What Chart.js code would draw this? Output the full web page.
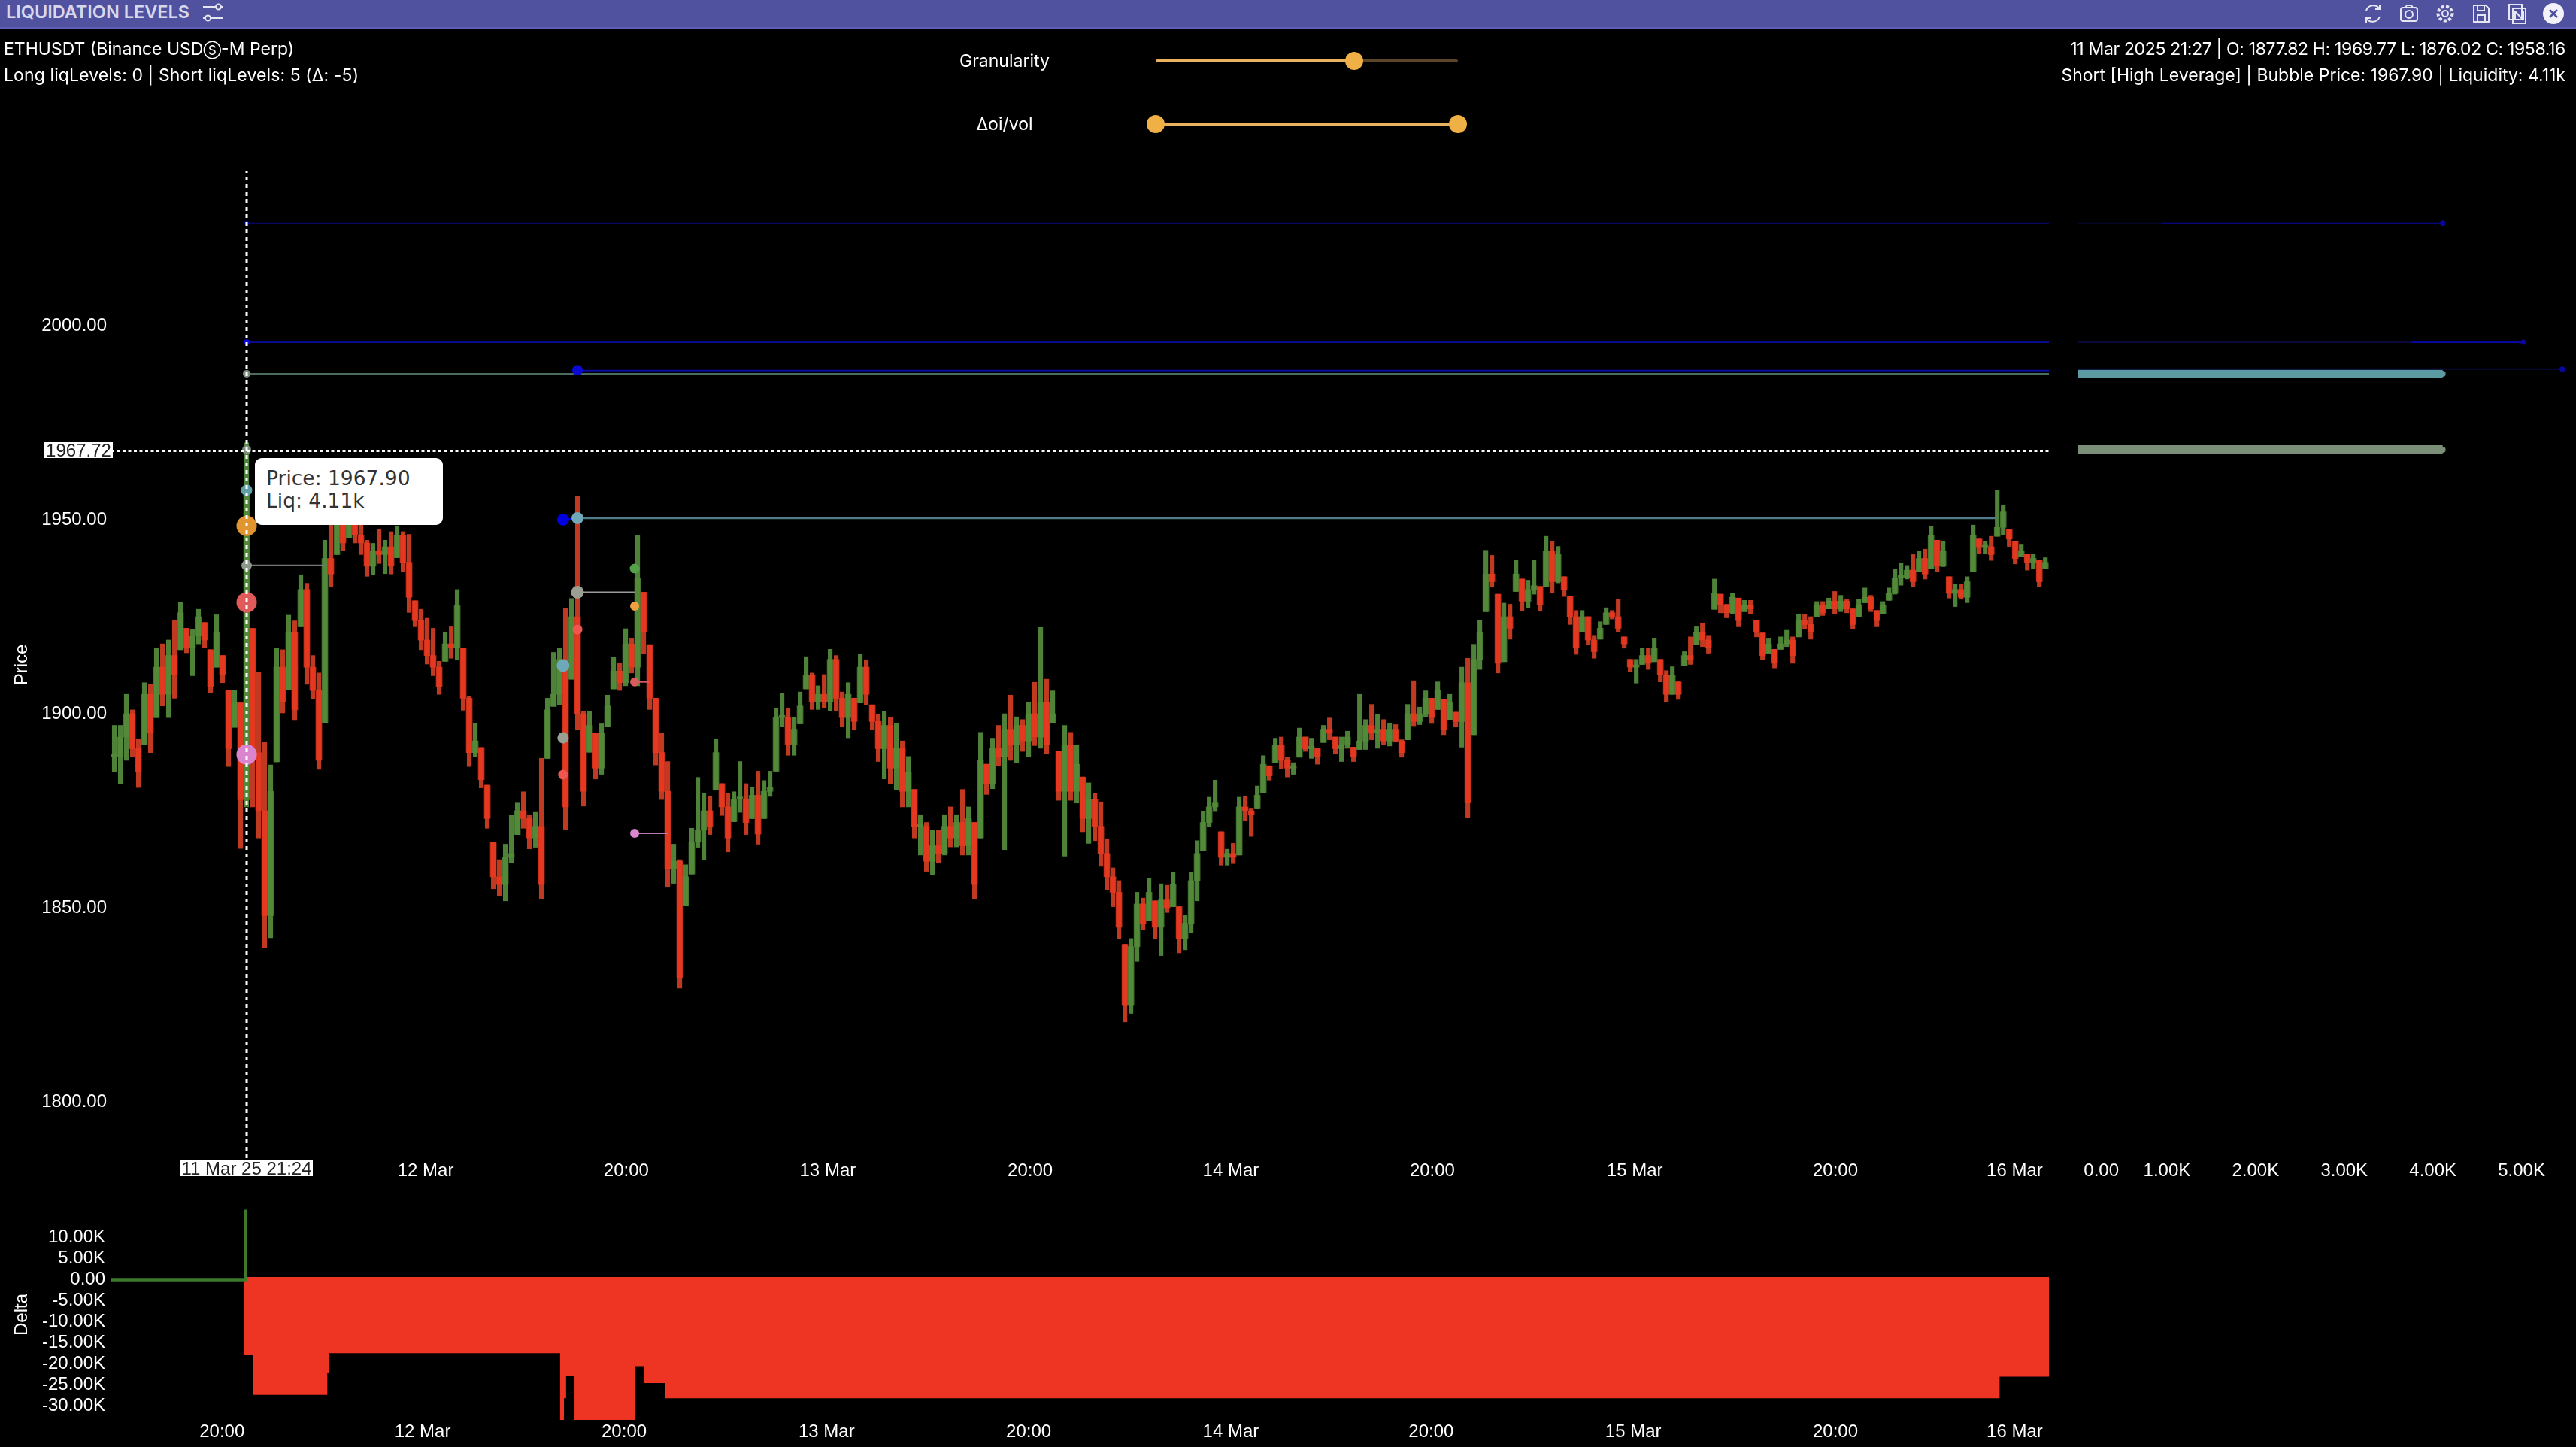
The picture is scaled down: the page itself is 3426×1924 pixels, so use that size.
<!DOCTYPE html>
<html>
<head>
<meta charset="utf-8">
<title>Liquidation Levels</title>
<script src="https://cdn.jsdelivr.net/npm/chart.js@4/dist/chart.umd.js"></script>
<style>
html, body { margin: 0; padding: 0; background: #000; width: 3426px; height: 1924px; overflow: hidden; }
canvas { position: absolute; left: 0; top: 0; }
.txt { position: absolute; color: #fff; font-family: Inter, sans-serif; font-size: 23px; line-height: 30px; white-space: nowrap; }
#bar { position: absolute; left: 0; top: 0; width: 3426px; height: 36px; background: #50529f; border-bottom: 2px solid #5c5fb5; }
#title { left: 8px; top: 1px; color: #d8d8ec; font-weight: 600; font-size: 23.5px; }
.right { right: 14px; text-align: right; }
.center { left: 1186px; width: 300px; text-align: center; }
.track { position: absolute; height: 4px; border-radius: 2px; background: #e8b25c; }
.thumb { position: absolute; width: 24px; height: 24px; border-radius: 50%; background: #efb045; }
.axisbox { position: absolute; background: #fff; color: #222; font-family: "Liberation Sans", sans-serif; font-size: 24px; line-height: 21px; text-align: center; }
#tip { position: absolute; left: 339px; top: 609px; width: 250px; height: 89px; background: #fff; border-radius: 9px; z-index: 5; }
#tip div { position: absolute; left: 15px; color: #333; font-family: "DejaVu Sans", sans-serif; font-size: 26.5px; line-height: 30px; white-space: nowrap; }
svg.ic { position: absolute; top: 3px; width: 30px; height: 30px; fill: none; stroke: #e6e6f2; stroke-width: 2; }
</style>
</head>
<body>
<canvas id="mainChart" width="3426" height="1924"></canvas>
<canvas id="depthChart" width="3426" height="1924"></canvas>
<canvas id="deltaChart" width="3426" height="1924"></canvas>

<div id="bar"></div>
<div class="txt" id="title">LIQUIDATION LEVELS</div>
<svg class="ic" style="left:268px" viewBox="0 0 30 30"><path d="M2 6h17M26 6h2M2 21h3M12 21h16"/><circle cx="22.5" cy="6" r="3.5"/><circle cx="8.5" cy="21" r="3.5"/></svg>
<svg class="ic" style="left:3141px" viewBox="0 0 30 30"><path d="M6 11a10 10 0 0 1 18-2M24 19a10 10 0 0 1-18 2M24 3v6h-6M6 27v-6h6"/></svg>
<svg class="ic" style="left:3189px" viewBox="0 0 30 30"><rect x="4" y="7" width="22" height="18" rx="3"/><circle cx="15" cy="16" r="5"/><path d="M10 7l2-3h6l2 3"/></svg>
<svg class="ic" style="left:3237px" viewBox="0 0 30 30"><circle cx="15" cy="15" r="4"/><circle cx="15" cy="15" r="9.5" stroke-dasharray="4 2.5" stroke-width="4"/></svg>
<svg class="ic" style="left:3285px" viewBox="0 0 30 30"><path d="M5 4h16l4 4v18H5z"/><path d="M10 4v7h9V4M10 26v-9h10v9"/></svg>
<svg class="ic" style="left:3333px" viewBox="0 0 30 30"><rect x="4" y="3" width="17" height="20"/><rect x="9" y="8" width="17" height="20"/><path d="M12 12l11 12M12 24V12M23 24V12"/></svg>
<svg class="ic" style="left:3381px" viewBox="0 0 30 30"><circle cx="15" cy="15" r="14" fill="#f2f2f8" stroke="none"/><path d="M10 10l10 10M20 10L10 20" stroke="#50529f" stroke-width="2.5"/></svg>

<div class="txt" style="left:5px;top:50px">ETHUSDT (Binance USD<span style="font-size:17px">Ⓢ</span>-M Perp)</div>
<div class="txt" style="left:5px;top:85px;letter-spacing:0.1px">Long liqLevels: 0 | Short liqLevels: 5 (Δ: -5)</div>
<div class="txt right" style="top:50px;letter-spacing:-0.35px">11 Mar 2025 21:27 | O: 1877.82 H: 1969.77 L: 1876.02 C: 1958.16</div>
<div class="txt right" style="top:85px">Short [High Leverage] | Bubble Price: 1967.90 | Liquidity: 4.11k</div>

<div class="txt center" style="top:66px">Granularity</div>
<div class="track" style="left:1537px;top:79px;width:402px;background:#5a4528"></div>
<div class="track" style="left:1537px;top:79px;width:264px"></div>
<div class="thumb" style="left:1789px;top:69px"></div>
<div class="txt center" style="top:150px">Δoi/vol</div>
<div class="track" style="left:1537px;top:163px;width:402px"></div>
<div class="thumb" style="left:1525px;top:153px"></div>
<div class="thumb" style="left:1927px;top:153px"></div>

<div class="axisbox" style="left:59px;top:588px;width:91px;height:21px">1967.72</div>
<div class="axisbox" style="left:240px;top:1543px;width:176px;height:21px">11 Mar 25 21:24</div>
<div id="tip"><div style="top:12px">Price: 1967.90</div><div style="top:42px">Liq: 4.11k</div></div>

<script>
// candles, one every few minutes
const candleHigh = [
  1897,1897,1905,1901,1893.5,1908,1907.5,1917,1918,1919,1924,1928.7,1922,1921.7,1926.9,1923.5,1916.5,1925.5,1915,1906,
  1906,1902.8,1969.77,1922,1910.6,1892.7,1886.8,1916.9,1916.5,1925.4,1923.9,1935.8,1933.6,1915,1910.5,1944.7,1955,1952,1955,1956,
  1953,1955,1944.7,1943.9,1947.6,1944.7,1946.9,1948.4,1946.9,1946.2,1929.1,1926.9,1924.6,1922,1913.5,1921,1922.4,1932,1916.9,1904.6,
  1897.6,1891.3,1881.6,1866.8,1862.4,1866.4,1873.8,1877,1879.9,1873.8,1874.6,1888.5,1904,1915.8,1917,1927.2,1929.7,1956,1900.7,1900.7,
  1895,1897.4,1904.8,1914.6,1913,1921.9,1919.5,1946,1931.3,1917.8,1904,1895,1887.7,1866.4,1862.4,1861.1,1870.5,1883.6,1879.5,1878.7,
  1893.4,1882,1879.5,1879.9,1887.7,1882,1881.1,1885.2,1882.8,1885.2,1901.5,1905.2,1901.5,1899,1905.6,1914.7,1910.5,1907.2,1910.1,1916.6,
  1915,1905.6,1908,1904,1915.4,1913.8,1902.3,1899.9,1900.7,1899,1897.5,1893,1889,1880.5,1874,1872,1870,1870,1874,1876,
  1874,1880.5,1876,1872,1895.2,1887,1893.7,1897,1900,1904.8,1899.2,1898.5,1903,1908.1,1922.2,1908.9,1905.9,1890.3,1897,1895.2,
  1891.8,1883.7,1882.2,1879.6,1877.3,1867.7,1860.3,1857,1840.6,1842.1,1854,1852.5,1857.7,1851.8,1856.2,1855.8,1859.2,1850.3,1848,1859.2,
  1867.3,1874.8,1878.5,1882.9,1869.6,1865.1,1866.6,1878.5,1878.8,1875.5,1881.4,1889.2,1886.6,1893.7,1894,1888.8,1887.4,1896.3,1894,1893.7,
  1891,1897,1898.9,1894,1894,1895.5,1891.4,1905,1898.5,1902.4,1899.8,1898.5,1897.5,1897.2,1893.3,1902.4,1908.5,1901.7,1905.9,1904,
  1908.2,1903.7,1905,1900.4,1912,1914.3,1917.9,1924,1942.1,1940.8,1930.8,1928.5,1928.2,1939.5,1934.7,1934.4,1939.5,1932.8,1945.7,1944.4,
  1943.1,1935.3,1930.2,1926.6,1926.6,1925,1920.2,1923.7,1927.3,1926.6,1929.5,1919.8,1914,1914,1916.9,1916.9,1919.5,1914,1911.1,1912.1,
  1908.2,1916,1919.8,1922.4,1923.4,1920.2,1934.7,1930.8,1928.2,1931.1,1929.8,1929.2,1929.2,1924,1920.8,1919.5,1916.6,1919.8,1921.5,1919.8,
  1925.7,1925.7,1925,1928.9,1928.9,1929.8,1931.5,1930.5,1929.5,1927,1929.5,1932.4,1930.5,1926.6,1928.9,1932.4,1937.3,1938.9,1938.2,1941.2,
  1941.8,1942.4,1948.3,1944.7,1944.4,1935.3,1933.4,1933.4,1935.3,1948.6,1945,1944.4,1945.7,1957.6,1953.7,1947.6,1944.4,1943.7,1941.2,1941.2,
  1939.5,1940.2
];
const candleLow = [
  1885,1882,1888,1889,1881,1892,1890,1899,1902,1899,1904,1916.5,1915.7,1909.8,1918,1917,1905.4,1912,1908,1886.4,
  1896.5,1865.3,1876.02,1876,1868,1839.6,1842.3,1887.6,1900.2,1906.1,1898.3,1922.4,1907.6,1903.9,1885.7,1897.6,1932.8,1941,1942,1945.4,
  1944,1941,1935.4,1935.8,1938.7,1936.1,1936,1940.2,1936.5,1926.1,1922.4,1916.5,1912.8,1909.8,1905,1913.5,1914.3,1914,1900.9,1886.4,
  1889,1880.9,1870.5,1854.9,1853,1851.8,1861.6,1868.9,1870.5,1865.2,1865.6,1852.2,1888.5,1901.9,1902.3,1870.1,1908.9,1895.8,1876.2,1890.1,
  1883.2,1884.4,1896.6,1906.4,1906,1907.2,1910.5,1907.2,1915.4,1901.1,1886.8,1877.9,1855.4,1856.3,1829.3,1850.5,1858.7,1865.6,1862.4,1868.9,
  1880.3,1873.8,1864.4,1872.2,1874.6,1868.9,1873,1866.4,1873,1878.7,1885.2,1896.6,1889.3,1889.3,1897.4,1906.4,1901.1,1901.1,1901.5,1900.7,
  1900.7,1896.6,1893.8,1895.8,1902.8,1902.3,1895.8,1887.7,1883.2,1882,1880.5,1876,1876,1868,1863.6,1859.4,1858.5,1861.5,1863.6,1865.7,
  1865.7,1863.6,1863.6,1852.2,1868,1879.2,1880.7,1886.6,1865,1888,1887.4,1890.3,1888.9,1891.8,1891.1,1889.6,1897.7,1877.7,1863.3,1877.7,
  1877,1869.6,1866.6,1867.3,1860.7,1854.7,1850.3,1842.1,1820.6,1822.8,1836.2,1844.3,1846.6,1842.1,1837.7,1848.8,1850.3,1838.4,1839.2,1843.6,
  1851.8,1864.7,1871,1874.8,1861,1861,1861.4,1863.6,1872.5,1868.4,1875.5,1879.6,1882.9,1887.4,1885.9,1883.7,1884.4,1888.8,1890.3,1888.5,
  1887,1892.6,1893.3,1889.6,1887.7,1891.1,1887.7,1890.8,1890.8,1893.3,1891.1,1892,1891.7,1892.7,1888.8,1893.3,1896.9,1897.2,1899.1,1897.5,
  1901.1,1894.6,1898.5,1896.6,1891.4,1873.3,1894.6,1911.4,1926.3,1932.8,1910.5,1913.4,1919.2,1931.5,1926.6,1927.3,1930.8,1926.6,1932.8,1931.1,
  1933.7,1930.2,1923,1915.3,1921.1,1917.9,1914.3,1919.2,1923,1924.4,1921.1,1916.9,1910.8,1907.9,1912.7,1911.4,1913.4,1908.2,1903,1905,
  1903.7,1912.4,1912.7,1917.9,1917.3,1915.6,1926.9,1926,1924.7,1925.7,1922.4,1926.3,1925.7,1919.8,1914,1915.6,1911.8,1916.6,1917.3,1913,
  1919.8,1921.8,1919.2,1925,1925.3,1927,1925.7,1926.3,1926,1921.8,1925,1928.6,1926.3,1922.4,1925.7,1929.2,1930.8,1933.1,1934.7,1932.8,
  1936.6,1934.7,1937.3,1936.6,1937.9,1929.8,1927.6,1929.5,1928.6,1936.6,1941.2,1941.2,1939.5,1945.7,1946,1943.1,1938.6,1940.5,1937,1937.3,
  1932.8,1937.3
];
const candleClose = [
  1889,1894,1900,1891,1885,1905,1895,1912,1905,1915,1910,1926,1917,1920,1925,1919,1907,1921,1910,1891,
  1903,1877.82,1958.16,1890,1875,1848,1880,1912,1903,1921,1901,1932,1912,1906,1888,1940,1936,1950,1944,1952,
  1946,1944,1938,1942,1941,1943,1938,1946,1939,1930,1924,1919,1915,1912,1907,1918,1917,1928,1904,1890,
  1893,1883,1873,1858,1856,1863,1864,1875,1873,1868,1871,1856,1901,1905,1914,1876,1925,1900,1880,1897,
  1886,1895,1902,1911,1908,1918,1912,1935,1921,1904,1890,1880,1860,1862,1832,1858,1867,1870,1875,1871,
  1890,1876,1868,1878,1878,1872,1879,1869,1880,1881,1899,1899,1892,1896,1902,1910,1903,1905,1903,1914,
  1904,1899,1905,1898,1912,1905,1898,1891,1897,1886,1891,1880,1885,1871,1871,1862,1866,1864,1871,1868,
  1872,1866,1873,1856,1888,1882,1891,1889,1896,1892,1897,1893,1900,1894,1903,1892,1900,1880,1892,1880,
  1887,1873,1878,1871,1864,1858,1854,1845,1825,1840,1851,1846,1854,1845,1852,1850,1856,1842,1846,1857,
  1864,1872,1876,1877,1863,1864,1863,1876,1875,1874,1879,1887,1884,1892,1888,1886,1886,1894,1891,1891,
  1889,1896,1895,1891,1892,1894,1889,1893,1897,1895,1896,1893,1896,1893,1890,1900,1898,1900,1904,1899,
  1906,1896,1903,1898,1908,1877,1914,1921,1936,1934,1913,1925,1922,1936,1929,1932,1933,1928,1942,1934,
  1941,1932,1925,1917,1925,1919,1916,1922,1926,1925,1922,1918,1912,1912,1915,1913,1917,1910,1905,1910,
  1905,1915,1914,1921,1919,1917,1931,1928,1926,1930,1924,1928,1927,1921,1915,1918,1913,1918,1919,1915,
  1924,1923,1921,1928,1926,1929,1927,1929,1927,1923,1928,1930,1927,1924,1928,1931,1935,1935,1937,1934,
  1940,1936,1946,1938,1942,1931,1932,1930,1934,1946,1943,1943,1941,1948,1952,1945,1940,1942,1939,1940,
  1934,1939
];

// axis ticks (x is the candle number)
const priceTicks = [2000, 1950, 1900, 1850, 1800];
const priceTickLabels = ['2000.00', '1950.00', '1900.00', '1850.00', '1800.00'];
const timeTicks = [51.75, 85.1, 118.6, 152.25, 185.6, 219.1, 252.75, 286.1, 315.9];
const timeTickLabels = ['12 Mar', '20:00', '13 Mar', '20:00', '14 Mar', '20:00', '15 Mar', '20:00', '16 Mar'];
const deltaTimeTicks = [17.9, 51.25, 84.75, 118.4, 152, 185.6, 218.9, 252.5, 286.1, 315.9];
const deltaTimeTickLabels = ['20:00', '12 Mar', '20:00', '13 Mar', '20:00', '14 Mar', '20:00', '15 Mar', '20:00', '16 Mar'];
const deltaTicks = [10, 5, 0, -5, -10, -15, -20, -25, -30];
const deltaTickLabels = ['10.00K', '5.00K', '0.00', '-5.00K', '-10.00K', '-15.00K', '-20.00K', '-25.00K', '-30.00K'];
const liqTicks = [0.26, 1, 2, 3, 4, 5];
const liqTickLabels = ['0.00', '1.00K', '2.00K', '3.00K', '4.00K', '5.00K'];

// liquidation level lines: price, first candle, last candle
const lineSeries = [
  { price: [2026.4, 2026.4], from: 22, to: 321.6, color: '#0a0a80', width: 2 },
  { price: [1995.7, 1995.7], from: 22, to: 321.6, color: '#0a0a90', width: 2 },
  { price: [1988.4, 1988.4], from: 77, to: 321.6, color: '#0a0aa0', width: 2 },
  { price: [1987.6, 1987.6], from: 22, to: 321.6, color: '#4c6c5e', width: 2 },
  { price: [1950.4, 1950.4], from: 77, to: 312.9, color: '#4f7c88', width: 2.5 },
  { price: [1950, 1950.4], from: 74.6, to: 77, color: '#0000e0', width: 2 },
  { price: [1938.2, 1938.2], from: 22, to: 35.1, color: '#777', width: 2 },
  { price: [1931.3, 1931.3], from: 77, to: 86.5, color: '#9a9a9a', width: 2 },
  { price: [1908.2, 1908.2], from: 86.5, to: 88.9, color: '#d85c5c', width: 2 },
  { price: [1869.2, 1869.2], from: 86.5, to: 92, color: '#b878b0', width: 2 }
];

// liquidation bubbles
const bubbleX = [22, 22, 22, 22, 22, 22, 22, 22, 22, 74.6, 77, 77, 74.6, 74.6, 77, 74.6, 86.5, 86.5, 86.5, 86.5, 77];
const bubblePrice = [2026.4, 1995.7, 1987.6, 1968, 1957.6, 1948.4, 1938.2, 1928.7, 1889.5, 1950, 1950.4, 1931.3, 1912.4, 1893.8, 1921.7, 1884.3, 1937.4, 1927.7, 1908.2, 1869.2, 1988.5];
const bubbleSize = [3, 4, 5, 6, 7.5, 13.5, 7, 13.5, 13.5, 8, 8, 8.5, 8.5, 7.5, 6.5, 6.5, 6.5, 6, 6, 6, 7];
const bubbleColor = ['#0a0aa0', '#0a0ad0', '#7f9080', '#7f8f7f', '#5f9fa8', '#e09530', '#8c9a8c', '#e05a5a', '#dc85cf',
  '#0000e0', '#6fa8b8', '#999f92', '#6fa8b8', '#999f92', '#f05550', '#f05550', '#55a04a', '#f0a040', '#d85c5c', '#da88d0', '#0a0ad0'];

// right hand liquidity bars
const depthPrice = [2026.4, 1995.7, 1988.8, 1987.6, 1968];
const depthLiq = [4.11, 5.02, 5.46, 4.11, 4.11];
const depthColor = ['#0808a0', '#0808a0', '#0808a0', '#5a9aa0', '#7b8f78'];
const depthWidth = [2, 2, 2, 11, 12];
const depthFadeUntil = [0.23, 0.75, 0.99, 0, 0];

// cumulative delta steps (thousands)
const deltaX = [21.6, 23.1, 35.4, 35.75, 74.1, 74.75, 75.1, 76.5, 86.5, 88.1, 91.6, 313.4, 321.6];
const deltaValues = [-17.9, -27.3, -22.2, -17.4, -33.25, -28.1, -22.8, -33.25, -20.5, -24.5, -28.1, -23, -23];
const deltaGreenX = [-0.5, 21.8, 21.8];
const deltaGreenValues = [0, 0, 16.6];

const cursorX = 22;
const cursorPrice = 1967.72;

const priceMin = 1785.5, priceMax = 2039.7;
const xMin = -0.5, xMax = 321.6;
const tickFont = { family: '"Liberation Sans", sans-serif', size: 24 };

Chart.defaults.animation = false;
Chart.defaults.responsive = false;
Chart.defaults.devicePixelRatio = 1;
Chart.defaults.plugins.legend.display = false;
Chart.defaults.plugins.tooltip.enabled = false;
Chart.defaults.events = [];

// Fixed tick list + fixed thickness for an axis
const fixedAxis = (ticks, labels, size, extra, pad) => Object.assign({
    afterBuildTicks: (s) => { s.ticks = ticks.map(v => ({ value: v })); },
    afterFit: (s) => { if (s.isHorizontal()) s.height = size; else s.width = size; },
    grid: { display: false, drawTicks: false },
    border: { display: false },
    ticks: {
        color: '#fff', font: tickFont, autoSkip: false, maxRotation: 0, padding: pad,
        callback: (v, i) => labels[i]
    }
}, extra);

const yTitle = (text) => ({ display: true, text, color: '#fff', font: tickFont, padding: { top: 15, bottom: 0 } });

// 1. Price chart
const up = (i, open) => candleClose[i] >= open;
const opens = candleClose.map((_, i) => {
    const prev = i === 0 ? candleClose[0] : candleClose[i - 1];
    return Math.min(candleHigh[i], Math.max(candleLow[i], prev));
});

const mainDatasets = [
    {
        type: 'line', order: 0, data: [{ x: cursorX, y: priceMin }, { x: cursorX, y: priceMax }],
        borderColor: '#fff', borderWidth: 3, borderDash: [5, 5], pointRadius: 0
    },
    {
        type: 'line', order: 0, data: [{ x: xMin, y: cursorPrice }, { x: xMax, y: cursorPrice }],
        borderColor: '#fff', borderWidth: 3, borderDash: [4, 3.5], pointRadius: 0
    },
    {
        type: 'line', order: 1, showLine: false,
        data: bubbleX.map((x, i) => ({ x, y: bubblePrice[i] })),
        pointRadius: bubbleSize, pointBackgroundColor: bubbleColor, pointBorderWidth: 0
    },
    ...lineSeries.map(l => ({
        type: 'line', order: 2,
        data: [{ x: l.from, y: l.price[0] }, { x: l.to, y: l.price[1] }],
        borderColor: l.color, borderWidth: l.width, pointRadius: 0
    })),
    {
        type: 'bar', order: 3, grouped: false, barThickness: 8, minBarLength: 3,
        data: candleClose.map((c, i) => ({ x: i, y: [opens[i], c] })),
        backgroundColor: candleClose.map((c, i) => up(i, opens[i]) ? 'rgba(82,140,58,0.85)' : 'rgba(232,56,32,0.88)')
    },
    {
        type: 'bar', order: 4, grouped: false, barThickness: 5.5,
        data: candleClose.map((c, i) => ({ x: i, y: [candleLow[i], candleHigh[i]] })),
        backgroundColor: candleClose.map((c, i) => up(i, opens[i]) ? '#4f8239' : '#c03a22')
    }
];

new Chart(document.getElementById('mainChart'), {
    type: 'bar',
    data: { datasets: mainDatasets },
    options: {
        layout: { padding: { left: 0, right: 701, top: 228, bottom: 354 } },
        scales: {
            x: fixedAxis(timeTicks, timeTickLabels, 30, { type: 'linear', offset: false, min: xMin, max: xMax }, 3),
            y: fixedAxis(priceTicks, priceTickLabels, 148, {
                type: 'linear', min: priceMin, max: priceMax, title: yTitle('Price')
            }, 6)
        }
    }
});

// 2. Liquidity bars on the right, same price range
new Chart(document.getElementById('depthChart'), {
    type: 'line',
    data: {
        datasets: depthPrice.map((p, i) => ({
            data: [{ x: 0, y: p }, { x: depthLiq[i], y: p }],
            borderWidth: depthWidth[i],
            borderCapStyle: 'butt',
            borderColor: (c) => {
                const area = c.chart.chartArea;
                if (!area) return depthColor[i];
                const s = c.chart.scales.x;
                const g = c.chart.ctx.createLinearGradient(s.getPixelForValue(0), 0, s.getPixelForValue(depthLiq[i]), 0);
                g.addColorStop(0, depthFadeUntil[i] ? '#08083a' : depthColor[i]);
                g.addColorStop(depthFadeUntil[i], depthFadeUntil[i] ? '#08083a' : depthColor[i]);
                g.addColorStop(Math.min(1, depthFadeUntil[i] + 0.001), depthColor[i]);
                g.addColorStop(1, depthColor[i]);
                return g;
            },
            pointRadius: [0, depthWidth[i] > 2 ? 4 : 3.5],
            pointBackgroundColor: depthColor[i],
            pointBorderWidth: 0
        }))
    },
    options: {
        layout: { padding: { left: 2764, right: 0, top: 228, bottom: 354 } },
        scales: {
            x: fixedAxis(liqTicks, liqTickLabels, 30, { type: 'linear', min: 0, max: 5.58 }, 3),
            y: { display: false, type: 'linear', min: priceMin, max: priceMax }
        }
    }
});

// 3. Delta chart at the bottom
new Chart(document.getElementById('deltaChart'), {
    type: 'line',
    data: {
        datasets: [
            {
                data: deltaGreenX.map((x, i) => ({ x, y: deltaGreenValues[i] })),
                borderColor: '#3d7a2a', borderWidth: 4.5, pointRadius: 0
            },
            {
                data: [{ x: deltaX[0], y: 0 }, { x: xMax, y: 0 }],
                borderColor: '#ee3524', borderWidth: 7, pointRadius: 0
            },
            {
                data: deltaX.map((x, i) => ({ x, y: deltaValues[i] })),
                stepped: true, fill: 'origin', backgroundColor: '#ee3524',
                borderWidth: 0, pointRadius: 0
            }
        ]
    },
    options: {
        layout: { padding: { left: 0, right: 701, top: 1608, bottom: 6 } },
        scales: {
            x: fixedAxis(deltaTimeTicks, deltaTimeTickLabels, 30, { type: 'linear', min: xMin, max: xMax }, 2),
            y: fixedAxis(deltaTicks, deltaTickLabels, 148, {
                type: 'linear', min: -33.25, max: 16.7, title: yTitle('Delta')
            }, 8)
        }
    }
});
</script>
</body>
</html>
